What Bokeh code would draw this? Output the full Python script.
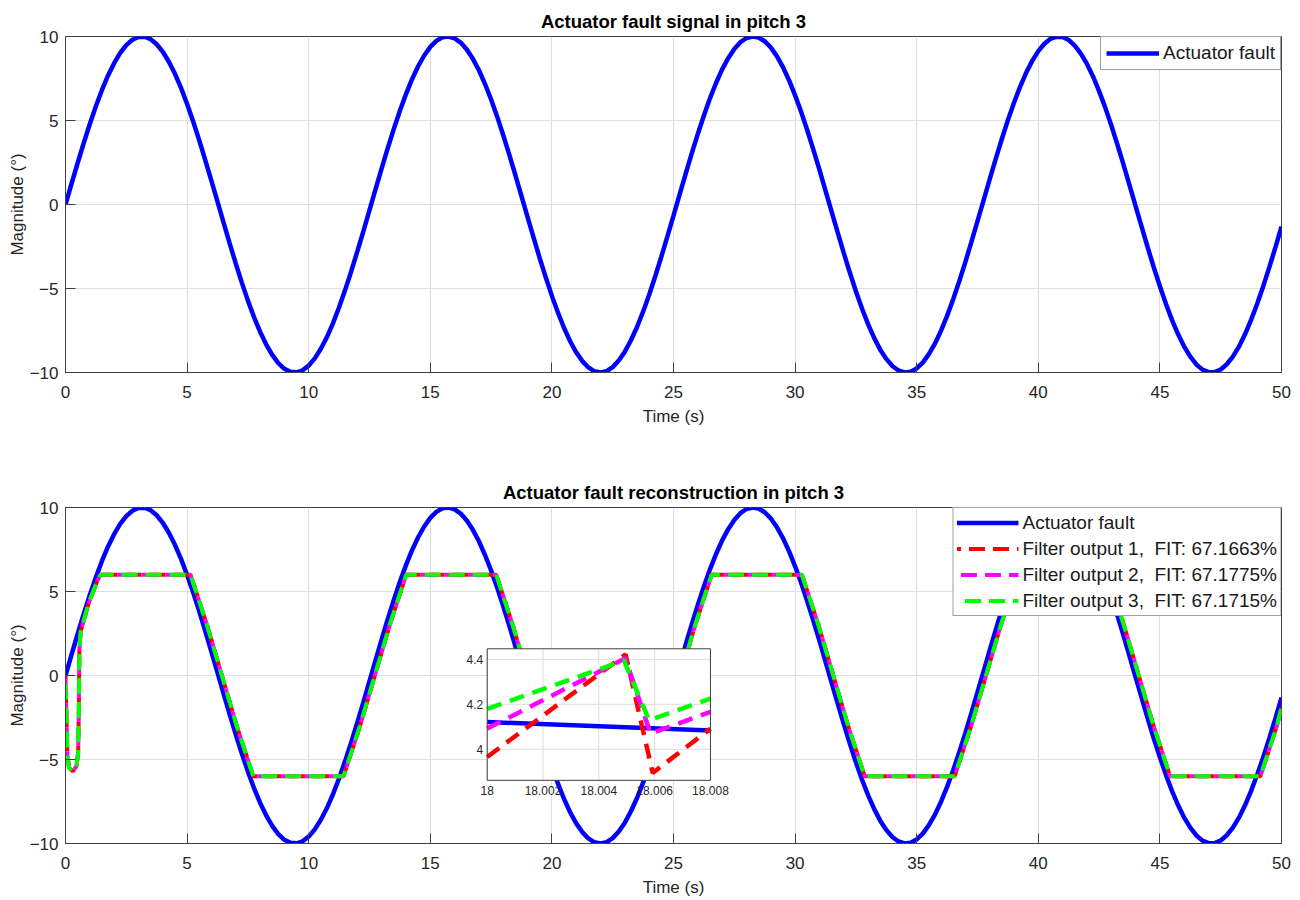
from bokeh.plotting import figure
from bokeh.models import Range1d, FixedTicker
from bokeh.layouts import column
from bokeh.core.properties import value
from bokeh.embed import file_html
from bokeh.resources import INLINE

FONT = "Liberation Sans"
AX = "#404040"
TXT = "#262626"
GRID = "#dedede"

# ---------------- data ----------------
time_s = [0.0, 0.25, 0.5, 0.75, 1.0, 1.25, 1.5, 1.75, 2.0, 2.25, 2.5, 2.75, 3.0, 3.25, 3.5, 3.75, 4.0, 4.25, 4.5, 4.75,
          5.0, 5.25, 5.5, 5.75, 6.0, 6.25, 6.5, 6.75, 7.0, 7.25, 7.5, 7.75, 8.0, 8.25, 8.5, 8.75, 9.0, 9.25, 9.5, 9.75,
          10.0, 10.25, 10.5, 10.75, 11.0, 11.25, 11.5, 11.75, 12.0, 12.25, 12.5, 12.75, 13.0, 13.25, 13.5, 13.75, 14.0, 14.25, 14.5, 14.75,
          15.0, 15.25, 15.5, 15.75, 16.0, 16.25, 16.5, 16.75, 17.0, 17.25, 17.5, 17.75, 18.0, 18.25, 18.5, 18.75, 19.0, 19.25, 19.5, 19.75,
          20.0, 20.25, 20.5, 20.75, 21.0, 21.25, 21.5, 21.75, 22.0, 22.25, 22.5, 22.75, 23.0, 23.25, 23.5, 23.75, 24.0, 24.25, 24.5, 24.75,
          25.0, 25.25, 25.5, 25.75, 26.0, 26.25, 26.5, 26.75, 27.0, 27.25, 27.5, 27.75, 28.0, 28.25, 28.5, 28.75, 29.0, 29.25, 29.5, 29.75,
          30.0, 30.25, 30.5, 30.75, 31.0, 31.25, 31.5, 31.75, 32.0, 32.25, 32.5, 32.75, 33.0, 33.25, 33.5, 33.75, 34.0, 34.25, 34.5, 34.75,
          35.0, 35.25, 35.5, 35.75, 36.0, 36.25, 36.5, 36.75, 37.0, 37.25, 37.5, 37.75, 38.0, 38.25, 38.5, 38.75, 39.0, 39.25, 39.5, 39.75,
          40.0, 40.25, 40.5, 40.75, 41.0, 41.25, 41.5, 41.75, 42.0, 42.25, 42.5, 42.75, 43.0, 43.25, 43.5, 43.75, 44.0, 44.25, 44.5, 44.75,
          45.0, 45.25, 45.5, 45.75, 46.0, 46.25, 46.5, 46.75, 47.0, 47.25, 47.5, 47.75, 48.0, 48.25, 48.5, 48.75, 49.0, 49.25, 49.5, 49.75,
          50.0]
actuator_fault = [0.00, 1.25, 2.47, 3.66, 4.79, 5.85, 6.82, 7.68, 8.41, 9.02, 9.49, 9.81, 9.97, 9.99, 9.84, 9.54, 9.09, 8.50, 7.78, 6.94,
                  5.98, 4.94, 3.82, 2.63, 1.41, 0.17, -1.08, -2.31, -3.51, -4.65, -5.72, -6.70, -7.57, -8.32, -8.95, -9.44, -9.78, -9.96, -9.99, -9.87,
                  -9.59, -9.16, -8.59, -7.89, -7.06, -6.12, -5.08, -3.97, -2.79, -1.58, -0.33, 0.92, 2.15, 3.35, 4.50, 5.58, 6.57, 7.46, 8.23, 8.87,
                  9.38, 9.74, 9.95, 10.00, 9.89, 9.64, 9.23, 8.67, 7.99, 7.17, 6.25, 5.23, 4.12, 2.95, 1.74, 0.50, -0.75, -1.99, -3.20, -4.35,
                  -5.44, -6.44, -7.35, -8.14, -8.80, -9.32, -9.70, -9.93, -10.00, -9.92, -9.68, -9.29, -8.76, -8.08, -7.29, -6.38, -5.37, -4.27, -3.11, -1.90,
                  -0.66, 0.59, 1.83, 3.04, 4.20, 5.30, 6.32, 7.23, 8.04, 8.71, 9.26, 9.66, 9.91, 10.00, 9.94, 9.72, 9.35, 8.83, 8.18, 7.40,
                  6.50, 5.51, 4.42, 3.27, 2.07, 0.83, -0.42, -1.66, -2.88, -4.05, -5.16, -6.19, -7.12, -7.94, -8.64, -9.19, -9.61, -9.88, -10.00, -9.95,
                  -9.76, -9.41, -8.91, -8.28, -7.51, -6.63, -5.64, -4.57, -3.43, -2.23, -0.99, 0.25, 1.50, 2.72, 3.90, 5.02, 6.06, 7.00, 7.84, 8.55,
                  9.13, 9.57, 9.86, 9.99, 9.97, 9.79, 9.46, 8.98, 8.37, 7.62, 6.75, 5.78, 4.72, 3.58, 2.39, 1.16, -0.09, -1.33, -2.56, -3.75,
                  -4.87, -5.92, -6.88, -7.73, -8.46, -9.06, -9.52, -9.83, -9.98, -9.98, -9.82, -9.51, -9.06, -8.46, -7.73, -6.87, -5.91, -4.86, -3.73, -2.55,
                  -1.32]

filter_t = [0.0, 0.04, 0.08, 0.15, 0.3, 0.45, 0.52, 0.55, 0.57, 0.62, 0.95, 1.3, 1.44,
            5.14, 5.82, 6.43, 7.04, 7.72,
            11.43, 12.11, 12.72, 13.33, 14.01,
            17.71, 18.39, 19.0, 19.61, 20.29,
            23.99, 24.67, 25.28, 25.89, 26.57,
            30.28, 30.96, 31.57, 32.18, 32.86,
            36.56, 37.24, 37.85, 38.46, 39.14,
            42.84, 43.52, 44.13, 44.74, 45.42,
            49.13, 49.81, 50.0]
filter_y = [0.0, -2.5, -4.8, -5.5, -5.7, -5.4, -4.6, -2.0, 1.5, 2.6, 4.3, 5.6, 6.0,
            6.0, 3.0, 0.0, -3.0, -6.0,
            -6.0, -3.0, 0.0, 3.0, 6.0,
            6.0, 3.0, 0.0, -3.0, -6.0,
            -6.0, -3.0, 0.0, 3.0, 6.0,
            6.0, 3.0, 0.0, -3.0, -6.0,
            -6.0, -3.0, 0.0, 3.0, 6.0,
            6.0, 3.0, 0.0, -3.0, -6.0,
            -6.0, -3.0, -1.9]

legend_labels = ["Actuator fault",
                 "Filter output 1,  FIT: 67.1663%",
                 "Filter output 2,  FIT: 67.1775%",
                 "Filter output 3,  FIT: 67.1715%"]

x_ticks = [0, 5, 10, 15, 20, 25, 30, 35, 40, 45, 50]
y_ticks = [-10, -5, 0, 5, 10]
y_tick_labels = ["\u221210", "\u22125", "0", "5", "10"]

# inset (zoom) data
inset_fault_t = [18.0, 18.008]
inset_fault_y = [4.121, 4.084]
inset_f1_t = [18.0, 18.00496, 18.00593, 18.008]
inset_f1_y = [3.966, 4.422, 3.895, 4.092]
inset_f2_t = [18.0, 18.00495, 18.00585, 18.008]
inset_f2_y = [4.092, 4.405, 4.070, 4.166]
inset_f3_t = [18.0, 18.0049, 18.0058, 18.008]
inset_f3_y = [4.180, 4.395, 4.130, 4.225]
inset_x_ticks = [18.0, 18.002, 18.004, 18.006, 18.008]
inset_x_labels = ["18", "18.002", "18.004", "18.006", "18.008"]
inset_y_ticks = [4.0, 4.2, 4.4]
inset_y_labels = ["4", "4.2", "4.4"]

# inset view window (source) and its placement in the main axes (target)
INSET_SRC_X = (18.0, 18.008)
INSET_SRC_Y = (3.862, 4.447)
INSET_TGT_X = (17.34, 26.52)
INSET_TGT_Y = (-6.24, 1.59)

BLUE, RED, MAG, GREEN = "#0000ff", "#ff0000", "#ff00ff", "#00ff00"


def base_fig(title, height, btop, bbot):
    p = figure(width=1298, height=height, x_range=Range1d(0, 50), y_range=Range1d(-10, 10),
               output_backend="svg", toolbar_location=None, title=title,
               min_border_left=65, min_border_right=17,
               min_border_top=btop, min_border_bottom=bbot)
    p.title.align = "center"
    p.title.text_font = FONT
    p.title.text_font_size = "18.5px"
    p.title.text_font_style = "bold"
    p.title.text_color = "#000000"
    p.title.standoff = 9
    p.background_fill_color = "white"
    p.border_fill_color = "white"
    p.outline_line_color = AX
    p.outline_line_width = 1
    p.xaxis.ticker = FixedTicker(ticks=x_ticks)
    p.yaxis.ticker = FixedTicker(ticks=y_ticks)
    p.yaxis.major_label_overrides = {t: s for t, s in zip(y_ticks, y_tick_labels)}
    p.xaxis.axis_label = "Time (s)"
    p.yaxis.axis_label = "Magnitude (\u00b0)"
    for ax in (p.xaxis[0], p.yaxis[0]):
        ax.major_tick_in = 10
        ax.major_tick_out = 0
        ax.minor_tick_in = 0
        ax.minor_tick_out = 0
        ax.axis_line_color = AX
        ax.major_tick_line_color = AX
        ax.major_label_text_font = FONT
        ax.major_label_text_font_size = "17px"
        ax.major_label_text_color = TXT
        ax.axis_label_text_font = FONT
        ax.axis_label_text_font_size = "17px"
        ax.axis_label_text_font_style = "normal"
        ax.axis_label_text_color = TXT
    p.xaxis.major_label_standoff = 13
    p.xaxis.axis_label_standoff = 6
    p.yaxis.major_label_standoff = 7
    p.yaxis.axis_label_standoff = 0
    p.xgrid.ticker = FixedTicker(ticks=x_ticks)
    p.ygrid.ticker = FixedTicker(ticks=y_ticks)
    p.grid.grid_line_color = GRID
    p.grid.grid_line_width = 1
    return p


def style_legend(p, gw, gh, pad):
    lg = p.legend[0]
    lg.location = "top_right"
    lg.margin = 0
    lg.padding = pad
    lg.spacing = 3
    lg.glyph_width = gw
    lg.glyph_height = gh
    lg.label_height = gh
    lg.label_standoff = 4
    lg.label_text_font = FONT
    lg.label_text_font_size = "19px"
    lg.label_text_color = "#1a1a1a"
    lg.border_line_color = AX
    lg.border_line_width = 1
    lg.background_fill_color = "white"
    lg.background_fill_alpha = 1.0


# ---------------- top plot ----------------
p1 = base_fig("Actuator fault signal in pitch 3", 449, 36, 77)
p1.line(time_s, actuator_fault, line_color=BLUE, line_width=4.5, legend_label=legend_labels[0])
style_legend(p1, 53, 20, 5)

# ---------------- bottom plot ----------------
p2 = base_fig("Actuator fault reconstruction in pitch 3", 450, 58, 56)
p2.line(time_s, actuator_fault, line_color=BLUE, line_width=4.5, legend_label=legend_labels[0])
p2.line(filter_t, filter_y, line_color=RED, line_width=4, line_dash="16 8",
        line_dash_offset=12, legend_label=legend_labels[1])
p2.line(filter_t, filter_y, line_color=MAG, line_width=4, line_dash="16 8",
        line_dash_offset=20, legend_label=legend_labels[2])
p2.line(filter_t, filter_y, line_color=GREEN, line_width=4, line_dash="16 8",
        line_dash_offset=16, legend_label=legend_labels[3])
style_legend(p2, 62, 23, 3)

# ---------------- inset ----------------
ins = p2.subplot(x_source=Range1d(*INSET_SRC_X), y_source=Range1d(*INSET_SRC_Y),
                 x_target=Range1d(*INSET_TGT_X), y_target=Range1d(*INSET_TGT_Y))
x0, x1 = INSET_SRC_X
y0, y1 = INSET_SRC_Y
ins.quad(left=[x0], right=[x1], bottom=[y0], top=[y1], fill_color="white", line_color=None)
ins.segment(x0=inset_x_ticks, x1=inset_x_ticks, y0=[y0] * len(inset_x_ticks), y1=[y1] * len(inset_x_ticks),
            line_color=GRID, line_width=1)
ins.segment(x0=[x0] * len(inset_y_ticks), x1=[x1] * len(inset_y_ticks), y0=inset_y_ticks, y1=inset_y_ticks,
            line_color=GRID, line_width=1)
ins.line(inset_fault_t, inset_fault_y, line_color=BLUE, line_width=4.5)
ins.line(inset_f1_t, inset_f1_y, line_color=RED, line_width=4.5, line_dash="15 9")
ins.line(inset_f2_t, inset_f2_y, line_color=MAG, line_width=4.5, line_dash="15 9")
ins.line(inset_f3_t, inset_f3_y, line_color=GREEN, line_width=4.5, line_dash="15 9")
ins.quad(left=[x0], right=[x1], bottom=[y0], top=[y1], fill_color=None, line_color=AX, line_width=1)
ins.text(x=inset_x_ticks, y=[y0] * len(inset_x_ticks), text=inset_x_labels,
         text_align="center", text_baseline="top", y_offset=6,
         text_font=value(FONT), text_font_size="12px", text_color=TXT)
ins.text(x=[x0] * len(inset_y_ticks), y=inset_y_ticks, text=inset_y_labels,
         text_align="right", text_baseline="middle", x_offset=-4,
         text_font=value(FONT), text_font_size="12px", text_color=TXT)

layout = column(p1, p2, spacing=0)
open("out.html", "w").write(file_html(layout, INLINE))
